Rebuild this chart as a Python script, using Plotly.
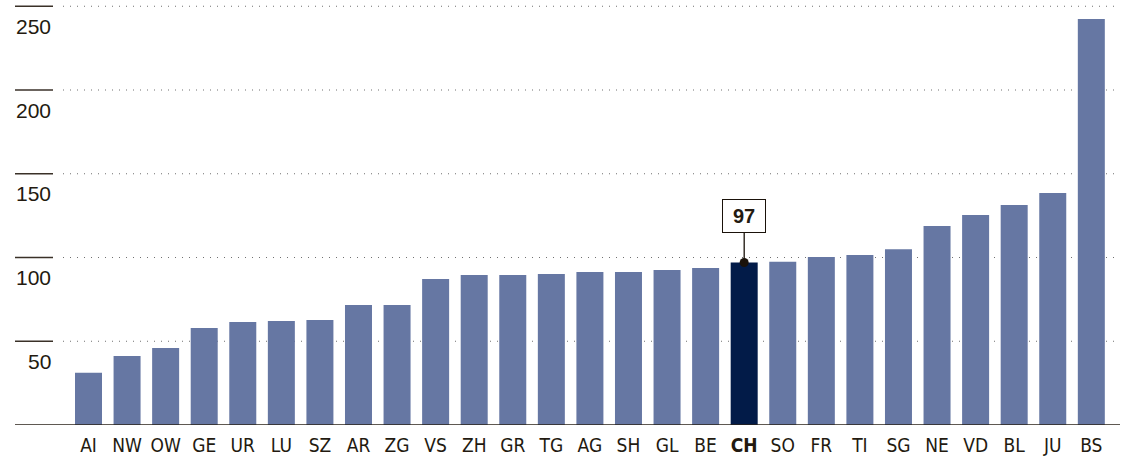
import plotly.graph_objects as go

cantons = ["AI", "NW", "OW", "GE", "UR", "LU", "SZ", "AR", "ZG", "VS", "ZH", "GR", "TG",
           "AG", "SH", "GL", "BE", "CH", "SO", "FR", "TI", "SG", "NE", "VD", "BL", "JU", "BS"]
values = [31.2, 41.2, 46, 57.9, 61.5, 62.1, 62.7, 71.6, 71.6, 87.2, 89.6, 89.6, 90.1,
          91.3, 91.3, 92.5, 93.7, 97, 97.5, 100.3, 101.5, 105, 118.8, 125.4, 131.3, 138.5, 242.4]
highlight = "CH"
y_ticks = [50, 100, 150, 200, 250]

BAR = "#6677a3"
HL = "#021b48"
INK = "#231a10"

W, H = 1131, 456
ML, MR, MT, MB = 15, 11, 0, 31
pw = W - ML - MR

colors = [HL if c == highlight else BAR for c in cantons]
ticktext = [f"<b>{c}</b>" if c == highlight else c for c in cantons]

fig = go.Figure()
fig.add_trace(go.Bar(x=list(range(len(cantons))), y=values, marker_color=colors,
                     marker_line_width=0, width=0.7, hoverinfo="skip"))
hi = cantons.index(highlight)
fig.add_trace(go.Scatter(x=[hi], y=[values[hi]], mode="markers",
                         marker=dict(size=9, color="#1a120a"), hoverinfo="skip"))

shapes = []
for t in y_ticks:
    shapes.append(dict(type="line", xref="paper", yref="y", x0=(63 - ML) / pw, x1=1, y0=t, y1=t,
                       line=dict(color="#707070", width=1.2, dash="1px,6px"), layer="below"))
    shapes.append(dict(type="line", xref="paper", yref="y", x0=0, x1=(53 - ML) / pw, y0=t, y1=t,
                       line=dict(color="#3a3128", width=1.5), layer="above"))
shapes.append(dict(type="line", xref="paper", yref="y", x0=0, x1=1, y0=0, y1=0,
                   line=dict(color="#2a2218", width=1.5), layer="above"))

annotations = []
for t in y_ticks:
    annotations.append(dict(xref="paper", yref="y", x=(53 - ML) / pw, y=t, text=str(t),
                            xanchor="right", yanchor="middle", yshift=-20, showarrow=False,
                            font=dict(family="Liberation Sans, Arial, sans-serif", size=21, color=INK)))
annotations.append(dict(x=hi, y=values[hi], xref="x", yref="y", text=f"<b>{round(values[hi])}</b>",
                        showarrow=True, arrowhead=0, arrowwidth=1.3, arrowcolor="#1a120a",
                        ax=0, ay=-47, bordercolor="#1a120a", borderwidth=1, bgcolor="white",
                        borderpad=4, width=34, height=24,
                        font=dict(family="Liberation Sans, Arial, sans-serif", size=20, color=INK)))

s = 38.57
x0 = -(88.5 - ML) / s
fig.update_layout(
    width=W, height=H, margin=dict(l=ML, r=MR, t=MT, b=MB),
    paper_bgcolor="white", plot_bgcolor="white", showlegend=False,
    shapes=shapes, annotations=annotations,
    xaxis=dict(range=[x0, x0 + pw / s], tickmode="array", tickvals=list(range(len(cantons))),
               ticktext=ticktext, showgrid=False, zeroline=False, showline=False,
               ticks="outside", ticklen=3, tickcolor="rgba(0,0,0,0)", automargin=False,
               tickfont=dict(family="Liberation Sans Narrow, Arial Narrow, DejaVu Sans Condensed, sans-serif",
                             size=19, color=INK)),
    yaxis=dict(range=[0, (H - MB - MT) / 1.675], showgrid=False, zeroline=False,
               showticklabels=False, ticks="", automargin=False),
)
fig.write_html("out.html", config={"displayModeBar": False},
               post_script="document.body.style.margin='0';document.body.style.overflow='hidden';")
